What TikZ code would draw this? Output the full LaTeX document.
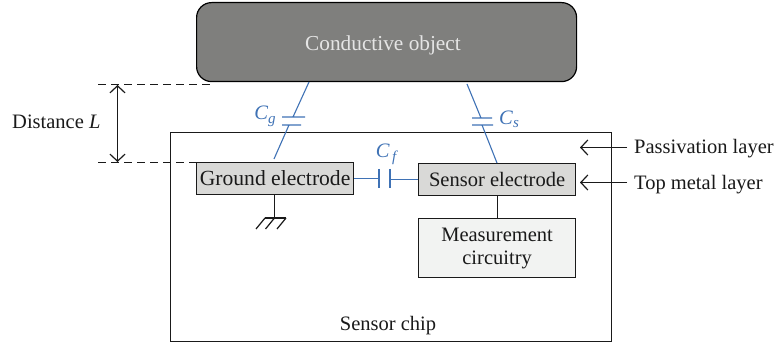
\documentclass[tikz,border=0pt]{standalone}
\usepackage{fontspec}
\setmainfont{Liberation Serif}
\usetikzlibrary{arrows.meta}
\definecolor{capblue}{HTML}{3F72B5}
\definecolor{objgray}{HTML}{7F7F7D}
\definecolor{elgray}{HTML}{D9D9D7}
\definecolor{cirgray}{HTML}{F2F3F2}
\definecolor{ink}{HTML}{1A1A1A}
\tikzset{
  x=1pt,y=-1pt,
  lbl/.style={inner sep=0pt,text=ink,font=\fontsize{20.5}{24}\selectfont},
  boxnode/.style={draw=ink,line width=1.2pt,minimum width=#1,inner sep=0pt,anchor=north west,text=ink,font=\fontsize{20.5}{24}\selectfont,align=center},
  wire/.style={draw=ink,line width=1.2pt},
  capwire/.style={draw=capblue,line width=1.1pt},
  caplbl/.style={inner sep=0pt,text=capblue,font=\fontsize{20.5}{24}\selectfont},
  pointer/.style={draw=ink,line width=1.2pt,-{Straight Barb[length=7pt,width=15pt,line width=1.2pt]}},
  guide/.style={draw=ink,line width=1.2pt,dash pattern=on 8pt off 5pt},
}
\begin{document}
\begin{tikzpicture}
\useasboundingbox (0,0) rectangle (774,347);
% chip
\node[boxnode=441pt,minimum height=209pt] (chip) at (170,132) {};
% object
\node[draw=black,line width=1.2pt,fill=objgray,rounded corners=15pt,minimum width=380pt,minimum height=79pt,inner sep=0pt,anchor=north west] (obj) at (196,2) {};
\node[inner sep=0pt,text=white!90!black,font=\fontsize{21.3}{24}\selectfont] (objlbl) at (383,45.5) {Conductive object};
% electrodes
\node[boxnode=157pt,minimum height=32pt,fill=elgray,font=\fontsize{21.6}{24}\selectfont] (ground) at (196,162) {Ground electrode};
\node[boxnode=157pt,minimum height=32pt,fill=elgray] (sensor) at (418,163) {Sensor electrode};
\node[boxnode=157pt,minimum height=59pt,fill=cirgray,font=\fontsize{20.5}{23}\selectfont] (meas) at (418,218) {Measurement\\circuitry};
% texts
\node[lbl,anchor=west] (dist) at (12,121.5) {Distance \textit{L}};
\node[lbl] (chiplbl) at (388,326) {Sensor chip};
\node[lbl,anchor=west] (pass) at (634,149) {Passivation layer};
\node[lbl,anchor=west] (top) at (634,185) {Top metal layer};
\node[caplbl] (cg) at (265,116) {\textit{C}\raisebox{-4pt}{\fontsize{15}{16}\selectfont\textit{g}}};
\node[caplbl] (cs) at (509,119) {\textit{C}\raisebox{-3pt}{\fontsize{15}{16}\selectfont\textit{s}}};
\node[caplbl] (cf) at (387,154) {\textit{C}\raisebox{-4pt}{\fontsize{15}{16}\selectfont\,\textit{f}}};
% guides
\coordinate (dTopL) at (98,84.5);
\coordinate (dTopR) at (210,84.5);
\coordinate (dBotL) at (98,162.5);
\coordinate (dTipT) at (117.5,85);
\coordinate (dTipB) at (117.5,162);
\draw[guide] (dTopL) -- (dTopR);
\draw[guide] (dBotL) -- (dBotL -| ground.west);
\draw[draw=ink,line width=1.2pt,{Straight Barb[length=7pt,width=15pt,line width=1.2pt]}-{Straight Barb[length=7pt,width=15pt,line width=1.2pt]}] (dTipT) -- (dTipB);
% pointers
\coordinate (pTipA) at (580,147.5);
\coordinate (pTipB) at (580,182.5);
\coordinate (pTailA) at (627,147.5);
\coordinate (pTailB) at (627,182.5);
\draw[pointer] (pTailA) -- (pTipA);
\draw[pointer] (pTailB) -- (pTipB);
% Cg
\coordinate (g1) at (309,82);
\coordinate (g2) at (293,117);
\coordinate (g3) at (289,125);
\coordinate (g4) at (274,159);
\coordinate (g1l) at (282,117); \coordinate (g1r) at (305,117);
\coordinate (g2l) at (282,125); \coordinate (g2r) at (301,125);
\draw[capwire] (g1) -- (g2) (g3) -- (g4) (g1l) -- (g1r) (g2l) -- (g2r);
% Cs
\coordinate (s1) at (467,84);
\coordinate (s2) at (481,118);
\coordinate (s3) at (482,125);
\coordinate (s4) at (497,163);
\coordinate (s1l) at (472,118); \coordinate (s1r) at (492,118);
\coordinate (s2l) at (472,125); \coordinate (s2r) at (493,125);
\draw[capwire] (s1) -- (s2) (s3) -- (s4) (s1l) -- (s1r) (s2l) -- (s2r);
% Cf
\coordinate (f1) at (379,179);
\coordinate (f2) at (390,179);
\coordinate (f1t) at (379,169); \coordinate (f1b) at (379,188.5);
\coordinate (f2t) at (390,169); \coordinate (f2b) at (390,188.5);
\draw[capwire] (ground.east) -- (f1 |- ground.east) (f2 |- sensor.west) -- (sensor.west) (f1t) -- (f1b) (f2t) -- (f2b);
% ground symbol
\coordinate (gnd) at (274.5,218);
\coordinate (gndL) at (265,218);
\coordinate (gndR) at (286,218);
\draw[wire] (ground.south -| gnd) -- (gnd);
\draw[wire] (gndL) -- (gndR);
\draw[wire] (gndL) -- ++(-9,11) (gnd) -- ++(-9,11) (gndR) -- ++(-9,11);
% sensor to measurement
\draw[wire] (sensor.south) -- (meas.north);
\end{tikzpicture}
\end{document}
